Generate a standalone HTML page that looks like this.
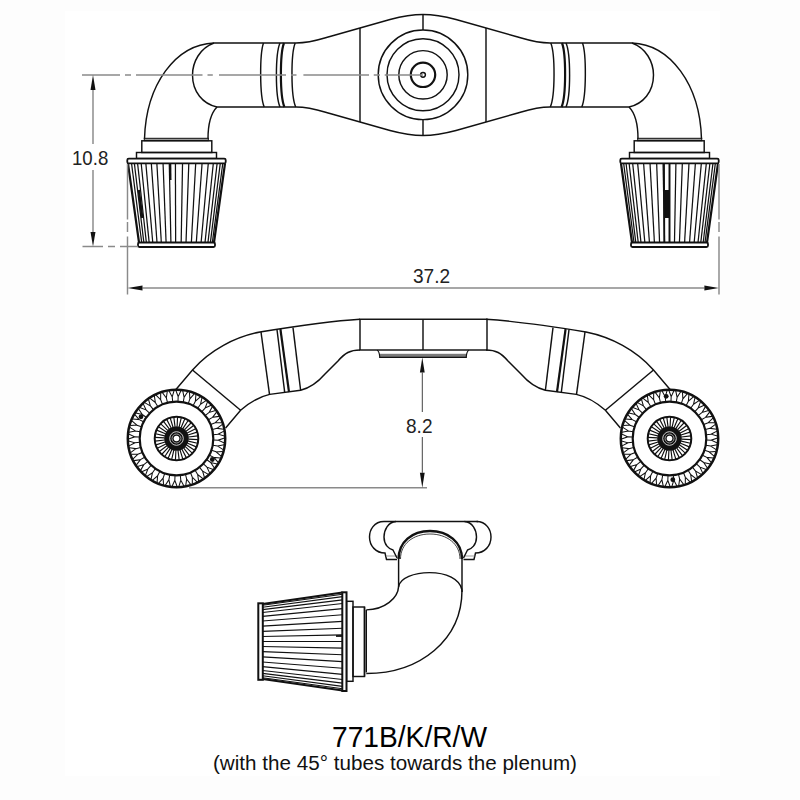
<!DOCTYPE html>
<html><head><meta charset="utf-8"><style>
html,body{margin:0;padding:0;background:#fdfdfd;}
#wrap{position:relative;width:800px;height:800px;overflow:hidden;background:#fdfdfd;}
#white{position:absolute;left:65px;top:11px;width:655px;height:765px;background:#fff;}
svg{position:absolute;left:0;top:0;}
.o{fill:none;stroke:#111;stroke-width:1.45;}
.t{fill:none;stroke:#111;stroke-width:2.2;}
.p{fill:none;stroke:#111;stroke-width:1.25;}
.tx{position:absolute;font-family:"Liberation Sans",sans-serif;color:#222;white-space:nowrap;line-height:1;}
</style></head><body><div id="wrap"><div id="white"></div>
<svg width="800" height="800" viewBox="0 0 800 800">
<path d="M214,43 C176,44.5 146,84 144.5,139" class="o"/>
<path d="M217,107 C211,113 208,124 208,139" class="o"/>
<path d="M214,43 C200,48 192.5,62 192.5,75 C192.5,92 203,104 217,107" class="o"/>
<path d="M214,43 L296,43 M217,107 L296,107" class="o"/>
<path d="M263.5,43 C259.6,54 259.6,96 264.2,107" class="o"/>
<path d="M280,43 C275.2,54 275.2,96 280,107" class="o"/>
<path d="M284,43 C279.8,54 279.8,96 284.4,107" class="t"/>
<path d="M295.2,43 C290.8,54 290.8,96 295.7,107" class="o"/>
<path d="M296,43 C310,43 318,40 330,36.5 L390,19.5 C405,15.5 413,14.5 423,14.5" class="o"/>
<path d="M296,107 C310,107 318,110 330,113.5 L390,130.5 C405,134.5 413,135.5 423,135.5" class="o"/>
<path d="M360,28 L360,122" class="o"/>
<rect x="144.3" y="138.3" width="64" height="2.4" fill="#9a9a9a" stroke="#111" stroke-width="1"/>
<rect x="141.8" y="140.8" width="70" height="11.7" class="o"/>
<rect x="136.5" y="152.5" width="80" height="6" class="o"/>
<g transform="matrix(-1 0 0 1 846 0)"><path d="M214,43 C176,44.5 146,84 144.5,139" class="o"/><path d="M217,107 C211,113 208,124 208,139" class="o"/><path d="M214,43 C200,48 192.5,62 192.5,75 C192.5,92 203,104 217,107" class="o"/><path d="M214,43 L296,43 M217,107 L296,107" class="o"/><path d="M263.5,43 C259.6,54 259.6,96 264.2,107" class="o"/><path d="M280,43 C275.2,54 275.2,96 280,107" class="o"/><path d="M284,43 C279.8,54 279.8,96 284.4,107" class="t"/><path d="M295.2,43 C290.8,54 290.8,96 295.7,107" class="o"/><path d="M296,43 C310,43 318,40 330,36.5 L390,19.5 C405,15.5 413,14.5 423,14.5" class="o"/><path d="M296,107 C310,107 318,110 330,113.5 L390,130.5 C405,134.5 413,135.5 423,135.5" class="o"/><path d="M360,28 L360,122" class="o"/><rect x="144.3" y="138.3" width="64" height="2.4" fill="#9a9a9a" stroke="#111" stroke-width="1"/><rect x="141.8" y="140.8" width="70" height="11.7" class="o"/><rect x="136.5" y="152.5" width="80" height="6" class="o"/></g>
<path d="M423,14.5 L423,30 M423,119.5 L423,135.5" class="o"/>
<circle cx="423" cy="74.8" r="44.8" class="o"/>
<circle cx="423" cy="74.8" r="36" class="o"/>
<circle cx="423" cy="74.8" r="24.2" class="o"/>
<circle cx="423" cy="74.8" r="12.2" fill="none" stroke="#111" stroke-width="2.2"/>
<circle cx="423" cy="74.8" r="2.4" class="o"/>
<rect x="127.3" y="158.6" width="98.4" height="4.8" rx="1.5" fill="#fff" stroke="#111" stroke-width="1.8"/>
<path d="M131.56,163.5 L141.69,242.5" class="p"/>
<path d="M134.37,163.5 L143.86,242.5" class="p"/>
<path d="M137.60,163.5 L146.36,242.5" class="p"/>
<path d="M141.21,163.5 L149.16,242.5" class="p"/>
<path d="M145.86,163.5 L152.76,242.5" class="p"/>
<path d="M151.32,163.5 L157.00,242.5" class="p"/>
<path d="M156.88,163.5 L161.30,242.5" class="p"/>
<path d="M163.06,163.5 L166.09,242.5" class="p"/>
<path d="M169.28,163.5 L170.91,242.5" class="p"/>
<path d="M175.41,163.5 L175.65,242.5" class="p"/>
<path d="M182.53,163.5 L181.17,242.5" class="p"/>
<path d="M188.80,163.5 L186.03,242.5" class="p"/>
<path d="M195.69,163.5 L191.37,242.5" class="p"/>
<path d="M202.06,163.5 L196.30,242.5" class="p"/>
<path d="M208.28,163.5 L201.12,242.5" class="p"/>
<path d="M213.31,163.5 L205.02,242.5" class="p"/>
<path d="M217.11,163.5 L207.96,242.5" class="p"/>
<path d="M220.25,163.5 L210.39,242.5" class="p"/>
<path d="M222.76,163.5 L212.34,242.5" class="p"/>
<path d="M128.0,163.5 L139.0,242.5 M225.0,163.5 L214.0,242.5" fill="none" stroke="#111" stroke-width="2.2"/>
<rect x="138.0" y="242.5" width="77" height="4.5" rx="1.5" fill="#fff" stroke="#111" stroke-width="1.8"/>
<rect x="620.3" y="158.6" width="98.4" height="4.8" rx="1.5" fill="#fff" stroke="#111" stroke-width="1.8"/>
<path d="M623.66,163.5 L633.99,242.5" class="p"/>
<path d="M626.04,163.5 L635.83,242.5" class="p"/>
<path d="M629.12,163.5 L638.22,242.5" class="p"/>
<path d="M632.69,163.5 L640.98,242.5" class="p"/>
<path d="M637.67,163.5 L644.84,242.5" class="p"/>
<path d="M643.61,163.5 L649.44,242.5" class="p"/>
<path d="M650.02,163.5 L654.41,242.5" class="p"/>
<path d="M656.67,163.5 L659.56,242.5" class="p"/>
<path d="M663.09,163.5 L664.53,242.5" class="p"/>
<path d="M669.50,163.5 L669.50,242.5" class="p"/>
<path d="M675.91,163.5 L674.47,242.5" class="p"/>
<path d="M682.33,163.5 L679.44,242.5" class="p"/>
<path d="M688.98,163.5 L684.59,242.5" class="p"/>
<path d="M695.39,163.5 L689.56,242.5" class="p"/>
<path d="M701.33,163.5 L694.16,242.5" class="p"/>
<path d="M706.31,163.5 L698.02,242.5" class="p"/>
<path d="M709.88,163.5 L700.78,242.5" class="p"/>
<path d="M712.96,163.5 L703.17,242.5" class="p"/>
<path d="M715.34,163.5 L705.01,242.5" class="p"/>
<path d="M621.0,163.5 L632.0,242.5 M718.0,163.5 L707.0,242.5" fill="none" stroke="#111" stroke-width="2.2"/>
<rect x="631.0" y="242.5" width="77" height="4.5" rx="1.5" fill="#fff" stroke="#111" stroke-width="1.8"/>
<path d="M170.2,164 L170.4,180" stroke="#111" stroke-width="2.2"/>
<path d="M138.8,190 L142.3,218" stroke="#111" stroke-width="2.4"/>
<rect x="664" y="190" width="5.5" height="28" fill="#111"/>
<path d="M664,163.5 L664.3,242 M669.5,163.5 L669.5,242" stroke="#111" stroke-width="1.8"/>
<path d="M82,75 L423,75" stroke="#8a8a8a" stroke-width="1.45" stroke-dasharray="38 5 6 5 66.5 5 5.3 6.2 67 5 5.5 6.9 65.6 4.75 6.25 4.7 40" fill="none"/>
<path d="M82.5,246.5 L138,246.5" stroke="#8a8a8a" stroke-width="1.45" stroke-dasharray="20.5 5 7 5 20" fill="none"/>
<path d="M93,90 L93,144 M93,170 L93,232" stroke="#8a8a8a" stroke-width="1.45"/>
<path d="M93,75 L90.5,90 L95.5,90 Z" fill="#111"/>
<path d="M93,246.5 L90.5,232 L95.5,232 Z" fill="#111"/>
<path d="M127.5,164 L127.5,294.5" stroke="#8a8a8a" stroke-width="1.45" stroke-dasharray="55.5 2.5 10 4.5 200" fill="none"/>
<path d="M719,164 L719,294.5" stroke="#8a8a8a" stroke-width="1.45" stroke-dasharray="55.5 2.5 10 4.5 200" fill="none"/>
<path d="M142.5,288 L704.4,288" stroke="#8a8a8a" stroke-width="1.5"/>
<path d="M127.5,288 L142.5,285.5 L142.5,290.5 Z" fill="#111"/>
<path d="M718.8,288 L704.4,285.5 L704.4,290.5 Z" fill="#111"/>
<path d="M360,319.25 C340,320.5 300,325.5 260,332 C235,337 210,350 192.5,370 L175.5,390" class="o"/>
<path d="M360,350 C350,350 345,353 338,361 L325,374 C318,382 310,388 300.6,390.25 L269.7,394.4 C258,397 250,402 240.6,410.3 L225.6,428" class="o"/>
<path d="M192.5,370 L240.6,410.3" class="o"/>
<path d="M261,332 L269.5,394.4" class="o"/>
<path d="M277,329.5 L284.7,392.5" class="o"/>
<path d="M280.4,329 L289,392" class="t"/>
<path d="M293,327.6 L300.6,390.25" class="o"/>
<g transform="matrix(-1 0 0 1 846 0)"><path d="M360,319.25 C340,320.5 300,325.5 260,332 C235,337 210,350 192.5,370 L175.5,390" class="o"/><path d="M360,350 C350,350 345,353 338,361 L325,374 C318,382 310,388 300.6,390.25 L269.7,394.4 C258,397 250,402 240.6,410.3 L225.6,428" class="o"/><path d="M192.5,370 L240.6,410.3" class="o"/><path d="M261,332 L269.5,394.4" class="o"/><path d="M277,329.5 L284.7,392.5" class="o"/><path d="M280.4,329 L289,392" class="t"/><path d="M293,327.6 L300.6,390.25" class="o"/></g>
<rect x="360" y="319.25" width="127" height="30.75" class="o"/>
<path d="M423,319.25 L423,350" class="o"/>
<rect x="379.7" y="353.8" width="86.6" height="3.6" fill="#7a7a7a"/>
<path d="M377,350.3 C379,351 379.5,354 379.7,356.5 L379.7,357.4 L466.3,357.4 L466.3,356.5 C466.5,354 467,351 469,350.3" fill="none" stroke="#111" stroke-width="1.2"/>
<circle cx="176.5" cy="438.5" r="48.7" fill="#fff" stroke="#111" stroke-width="2.5"/>
<circle cx="176.5" cy="438.5" r="36.8" fill="none" stroke="#111" stroke-width="2.2"/>
<path d="M213.47,439.98 L218.27,440.17 M224.50,437.92 L218.27,440.17 L224.30,442.91 M212.88,445.23 L217.60,446.10 M224.09,444.76 L217.60,446.10 L223.18,449.67 M211.56,450.34 L216.10,451.87 M222.71,451.47 L216.10,451.87 L221.12,456.20 M209.51,455.20 L213.80,457.37 M220.40,457.91 L213.80,457.37 L218.15,462.37 M206.80,459.73 L210.73,462.49 M217.19,463.96 L210.73,462.49 L214.33,468.05 M203.47,463.83 L206.97,467.11 M213.15,469.50 L206.97,467.11 L209.73,473.13 M199.59,467.41 L202.59,471.16 M208.37,474.40 L202.59,471.16 L204.47,477.51 M195.24,470.40 L197.67,474.54 M202.93,478.57 L197.67,474.54 L198.63,481.09 M190.51,472.74 L192.33,477.19 M196.96,481.92 L192.33,477.19 L192.34,483.81 M185.50,474.39 L186.66,479.05 M190.57,484.39 L186.66,479.05 L185.73,485.60 M180.30,475.30 L180.79,480.08 M183.90,485.93 L180.79,480.08 L178.94,486.44 M175.02,475.47 L174.83,480.27 M177.08,486.50 L174.83,480.27 L172.09,486.30 M169.77,474.88 L168.90,479.60 M170.24,486.09 L168.90,479.60 L165.33,485.18 M164.66,473.56 L163.13,478.10 M163.53,484.71 L163.13,478.10 L158.80,483.12 M159.80,471.51 L157.63,475.80 M157.09,482.40 L157.63,475.80 L152.63,480.15 M155.27,468.80 L152.51,472.73 M151.04,479.19 L152.51,472.73 L146.95,476.33 M151.17,465.47 L147.89,468.97 M145.50,475.15 L147.89,468.97 L141.87,471.73 M147.59,461.59 L143.84,464.59 M140.60,470.37 L143.84,464.59 L137.49,466.47 M144.60,457.24 L140.46,459.67 M136.43,464.93 L140.46,459.67 L133.91,460.63 M142.26,452.51 L137.81,454.33 M133.08,458.96 L137.81,454.33 L131.19,454.34 M140.61,447.50 L135.95,448.66 M130.61,452.57 L135.95,448.66 L129.40,447.73 M139.70,442.30 L134.92,442.79 M129.07,445.90 L134.92,442.79 L128.56,440.94 M139.53,437.02 L134.73,436.83 M128.50,439.08 L134.73,436.83 L128.70,434.09 M140.12,431.77 L135.40,430.90 M128.91,432.24 L135.40,430.90 L129.82,427.33 M141.44,426.66 L136.90,425.13 M130.29,425.53 L136.90,425.13 L131.88,420.80 M143.49,421.80 L139.20,419.63 M132.60,419.09 L139.20,419.63 L134.85,414.63 M146.20,417.27 L142.27,414.51 M135.81,413.04 L142.27,414.51 L138.67,408.95 M149.53,413.17 L146.03,409.89 M139.85,407.50 L146.03,409.89 L143.27,403.87 M153.41,409.59 L150.41,405.84 M144.63,402.60 L150.41,405.84 L148.53,399.49 M157.76,406.60 L155.33,402.46 M150.07,398.43 L155.33,402.46 L154.37,395.91 M162.49,404.26 L160.67,399.81 M156.04,395.08 L160.67,399.81 L160.66,393.19 M167.50,402.61 L166.34,397.95 M162.43,392.61 L166.34,397.95 L167.27,391.40 M172.70,401.70 L172.21,396.92 M169.10,391.07 L172.21,396.92 L174.06,390.56 M177.98,401.53 L178.17,396.73 M175.92,390.50 L178.17,396.73 L180.91,390.70 M183.23,402.12 L184.10,397.40 M182.76,390.91 L184.10,397.40 L187.67,391.82 M188.34,403.44 L189.87,398.90 M189.47,392.29 L189.87,398.90 L194.20,393.88 M193.20,405.49 L195.37,401.20 M195.91,394.60 L195.37,401.20 L200.37,396.85 M197.73,408.20 L200.49,404.27 M201.96,397.81 L200.49,404.27 L206.05,400.67 M201.83,411.53 L205.11,408.03 M207.50,401.85 L205.11,408.03 L211.13,405.27 M205.41,415.41 L209.16,412.41 M212.40,406.63 L209.16,412.41 L215.51,410.53 M208.40,419.76 L212.54,417.33 M216.57,412.07 L212.54,417.33 L219.09,416.37 M210.74,424.49 L215.19,422.67 M219.92,418.04 L215.19,422.67 L221.81,422.66 M212.39,429.50 L217.05,428.34 M222.39,424.43 L217.05,428.34 L223.60,429.27 M213.30,434.70 L218.08,434.21 M223.93,431.10 L218.08,434.21 L224.44,436.06" fill="none" stroke="#111" stroke-width="1.05"/>
<circle cx="176.5" cy="438.5" r="21.8" fill="#fff" stroke="#111" stroke-width="2"/>
<path d="M188.49,439.10 L197.97,439.57 M188.20,441.17 L197.46,443.29 M187.56,443.16 L196.31,446.85 M186.58,445.01 L194.56,450.17 M185.30,446.66 L192.26,453.13 M183.74,448.07 L189.48,455.64 M181.97,449.18 L186.31,457.63 M180.04,449.97 L182.83,459.05 M177.99,450.41 L179.17,459.83 M175.90,450.49 L175.43,459.97 M173.83,450.20 L171.71,459.46 M171.84,449.56 L168.15,458.31 M169.99,448.58 L164.83,456.56 M168.34,447.30 L161.87,454.26 M166.93,445.74 L159.36,451.48 M165.82,443.97 L157.37,448.31 M165.03,442.04 L155.95,444.83 M164.59,439.99 L155.17,441.17 M164.51,437.90 L155.03,437.43 M164.80,435.83 L155.54,433.71 M165.44,433.84 L156.69,430.15 M166.42,431.99 L158.44,426.83 M167.70,430.34 L160.74,423.87 M169.26,428.93 L163.52,421.36 M171.03,427.82 L166.69,419.37 M172.96,427.03 L170.17,417.95 M175.01,426.59 L173.83,417.17 M177.10,426.51 L177.57,417.03 M179.17,426.80 L181.29,417.54 M181.16,427.44 L184.85,418.69 M183.01,428.42 L188.17,420.44 M184.66,429.70 L191.13,422.74 M186.07,431.26 L193.64,425.52 M187.18,433.03 L195.63,428.69 M187.97,434.96 L197.05,432.17 M188.41,437.01 L197.83,435.83" fill="none" stroke="#111" stroke-width="1.15"/>
<circle cx="176.5" cy="438.5" r="12.3" fill="#111"/>
<circle cx="176.5" cy="438.5" r="6.8" fill="none" stroke="#e0e0e0" stroke-width="0.9"/>
<circle cx="176.5" cy="438.5" r="4.5" fill="none" stroke="#999" stroke-width="1"/>
<circle cx="176.5" cy="438.5" r="2.8" fill="#fff"/>
<circle cx="141" cy="416.8" r="2.4" fill="#111"/>
<circle cx="212.3" cy="459.5" r="2.4" fill="#111"/>
<circle cx="669.5" cy="438.5" r="48.7" fill="#fff" stroke="#111" stroke-width="2.5"/>
<circle cx="669.5" cy="438.5" r="36.8" fill="none" stroke="#111" stroke-width="2.2"/>
<path d="M706.47,439.98 L711.27,440.17 M717.50,437.92 L711.27,440.17 L717.30,442.91 M705.88,445.23 L710.60,446.10 M717.09,444.76 L710.60,446.10 L716.18,449.67 M704.56,450.34 L709.10,451.87 M715.71,451.47 L709.10,451.87 L714.12,456.20 M702.51,455.20 L706.80,457.37 M713.40,457.91 L706.80,457.37 L711.15,462.37 M699.80,459.73 L703.73,462.49 M710.19,463.96 L703.73,462.49 L707.33,468.05 M696.47,463.83 L699.97,467.11 M706.15,469.50 L699.97,467.11 L702.73,473.13 M692.59,467.41 L695.59,471.16 M701.37,474.40 L695.59,471.16 L697.47,477.51 M688.24,470.40 L690.67,474.54 M695.93,478.57 L690.67,474.54 L691.63,481.09 M683.51,472.74 L685.33,477.19 M689.96,481.92 L685.33,477.19 L685.34,483.81 M678.50,474.39 L679.66,479.05 M683.57,484.39 L679.66,479.05 L678.73,485.60 M673.30,475.30 L673.79,480.08 M676.90,485.93 L673.79,480.08 L671.94,486.44 M668.02,475.47 L667.83,480.27 M670.08,486.50 L667.83,480.27 L665.09,486.30 M662.77,474.88 L661.90,479.60 M663.24,486.09 L661.90,479.60 L658.33,485.18 M657.66,473.56 L656.13,478.10 M656.53,484.71 L656.13,478.10 L651.80,483.12 M652.80,471.51 L650.63,475.80 M650.09,482.40 L650.63,475.80 L645.63,480.15 M648.27,468.80 L645.51,472.73 M644.04,479.19 L645.51,472.73 L639.95,476.33 M644.17,465.47 L640.89,468.97 M638.50,475.15 L640.89,468.97 L634.87,471.73 M640.59,461.59 L636.84,464.59 M633.60,470.37 L636.84,464.59 L630.49,466.47 M637.60,457.24 L633.46,459.67 M629.43,464.93 L633.46,459.67 L626.91,460.63 M635.26,452.51 L630.81,454.33 M626.08,458.96 L630.81,454.33 L624.19,454.34 M633.61,447.50 L628.95,448.66 M623.61,452.57 L628.95,448.66 L622.40,447.73 M632.70,442.30 L627.92,442.79 M622.07,445.90 L627.92,442.79 L621.56,440.94 M632.53,437.02 L627.73,436.83 M621.50,439.08 L627.73,436.83 L621.70,434.09 M633.12,431.77 L628.40,430.90 M621.91,432.24 L628.40,430.90 L622.82,427.33 M634.44,426.66 L629.90,425.13 M623.29,425.53 L629.90,425.13 L624.88,420.80 M636.49,421.80 L632.20,419.63 M625.60,419.09 L632.20,419.63 L627.85,414.63 M639.20,417.27 L635.27,414.51 M628.81,413.04 L635.27,414.51 L631.67,408.95 M642.53,413.17 L639.03,409.89 M632.85,407.50 L639.03,409.89 L636.27,403.87 M646.41,409.59 L643.41,405.84 M637.63,402.60 L643.41,405.84 L641.53,399.49 M650.76,406.60 L648.33,402.46 M643.07,398.43 L648.33,402.46 L647.37,395.91 M655.49,404.26 L653.67,399.81 M649.04,395.08 L653.67,399.81 L653.66,393.19 M660.50,402.61 L659.34,397.95 M655.43,392.61 L659.34,397.95 L660.27,391.40 M665.70,401.70 L665.21,396.92 M662.10,391.07 L665.21,396.92 L667.06,390.56 M670.98,401.53 L671.17,396.73 M668.92,390.50 L671.17,396.73 L673.91,390.70 M676.23,402.12 L677.10,397.40 M675.76,390.91 L677.10,397.40 L680.67,391.82 M681.34,403.44 L682.87,398.90 M682.47,392.29 L682.87,398.90 L687.20,393.88 M686.20,405.49 L688.37,401.20 M688.91,394.60 L688.37,401.20 L693.37,396.85 M690.73,408.20 L693.49,404.27 M694.96,397.81 L693.49,404.27 L699.05,400.67 M694.83,411.53 L698.11,408.03 M700.50,401.85 L698.11,408.03 L704.13,405.27 M698.41,415.41 L702.16,412.41 M705.40,406.63 L702.16,412.41 L708.51,410.53 M701.40,419.76 L705.54,417.33 M709.57,412.07 L705.54,417.33 L712.09,416.37 M703.74,424.49 L708.19,422.67 M712.92,418.04 L708.19,422.67 L714.81,422.66 M705.39,429.50 L710.05,428.34 M715.39,424.43 L710.05,428.34 L716.60,429.27 M706.30,434.70 L711.08,434.21 M716.93,431.10 L711.08,434.21 L717.44,436.06" fill="none" stroke="#111" stroke-width="1.05"/>
<circle cx="669.5" cy="438.5" r="21.8" fill="#fff" stroke="#111" stroke-width="2"/>
<path d="M681.49,439.10 L690.97,439.57 M681.20,441.17 L690.46,443.29 M680.56,443.16 L689.31,446.85 M679.58,445.01 L687.56,450.17 M678.30,446.66 L685.26,453.13 M676.74,448.07 L682.48,455.64 M674.97,449.18 L679.31,457.63 M673.04,449.97 L675.83,459.05 M670.99,450.41 L672.17,459.83 M668.90,450.49 L668.43,459.97 M666.83,450.20 L664.71,459.46 M664.84,449.56 L661.15,458.31 M662.99,448.58 L657.83,456.56 M661.34,447.30 L654.87,454.26 M659.93,445.74 L652.36,451.48 M658.82,443.97 L650.37,448.31 M658.03,442.04 L648.95,444.83 M657.59,439.99 L648.17,441.17 M657.51,437.90 L648.03,437.43 M657.80,435.83 L648.54,433.71 M658.44,433.84 L649.69,430.15 M659.42,431.99 L651.44,426.83 M660.70,430.34 L653.74,423.87 M662.26,428.93 L656.52,421.36 M664.03,427.82 L659.69,419.37 M665.96,427.03 L663.17,417.95 M668.01,426.59 L666.83,417.17 M670.10,426.51 L670.57,417.03 M672.17,426.80 L674.29,417.54 M674.16,427.44 L677.85,418.69 M676.01,428.42 L681.17,420.44 M677.66,429.70 L684.13,422.74 M679.07,431.26 L686.64,425.52 M680.18,433.03 L688.63,428.69 M680.97,434.96 L690.05,432.17 M681.41,437.01 L690.83,435.83" fill="none" stroke="#111" stroke-width="1.15"/>
<circle cx="669.5" cy="438.5" r="12.3" fill="#111"/>
<circle cx="669.5" cy="438.5" r="6.8" fill="none" stroke="#e0e0e0" stroke-width="0.9"/>
<circle cx="669.5" cy="438.5" r="4.5" fill="none" stroke="#999" stroke-width="1"/>
<circle cx="669.5" cy="438.5" r="2.8" fill="#fff"/>
<circle cx="666.2" cy="396.3" r="2.4" fill="#111"/>
<circle cx="672.8" cy="479.7" r="2.4" fill="#111"/>
<path d="M189,487.8 L427,487.8" stroke="#8a8a8a" stroke-width="1.45"/>
<path d="M422.3,372.5 L422.3,412 M422.3,437 L422.3,472.8" stroke="#444" stroke-width="1"/>
<path d="M422.3,357.6 L419.9,372.5 L424.7,372.5 Z" fill="#111"/>
<path d="M422.3,487.8 L419.9,472.8 L424.7,472.8 Z" fill="#111"/>
<path d="M384,521.5 L478,521.5" class="o"/>
<path d="M384,521.5 C374,521.5 369.5,530 369.5,537 C369.5,546 376,553 385,553 L386.5,559.5 L397,559.5" class="o"/>
<path d="M386,556 L397,556" stroke="#999" stroke-width="1"/>
<path d="M396,521.5 C388,522 384,530 384,537 C384,545 389,549 393,550 L397,558" class="o"/>
<g transform="matrix(-1 0 0 1 860.5 0)"><path d="M384,521.5 C374,521.5 369.5,530 369.5,537 C369.5,546 376,553 385,553 L386.5,559.5 L397,559.5" class="o"/><path d="M386,556 L397,556" stroke="#999" stroke-width="1"/><path d="M396,521.5 C388,522 384,530 384,537 C384,545 389,549 393,550 L397,558" class="o"/></g>
<path d="M398.6,559 C398.6,542 412,531 430,531 C448,531 462,542 462,559" fill="none" stroke="#111" stroke-width="2.4"/>
<path d="M400.5,559 C400.5,544 413,534 430,534 C447,534 460,544 460,559" fill="none" stroke="#111" stroke-width="0.8"/>
<path d="M398.6,555 L398.6,587 M462,555 L462,592" class="o"/>
<path d="M398.6,586.6 C400,578 414,572.6 429.5,572.6 C446,572.6 460,579 462,590" class="o"/>
<path d="M462,590 C462,640 420,673.5 366.3,673.5" class="o"/>
<path d="M398.6,586.6 C398,598 385,609.5 366.3,609.9" class="o"/>
<path d="M366.3,609.9 L366.3,672.4" class="o"/>
<rect x="353" y="607" width="11.5" height="69.5" class="o"/>
<path d="M364.5,607 L364.5,676.5" class="o"/>
<rect x="346.5" y="601.3" width="6.5" height="80" class="o"/>
<path d="M262.5,605.31 L342.5,594.22 M262.5,607.19 L342.5,596.66 M262.5,609.62 L342.5,599.85 M262.5,612.44 L342.5,603.52 M262.5,616.38 L342.5,608.67 M262.5,621.06 L342.5,614.79 M262.5,626.12 L342.5,621.41 M262.5,631.38 L342.5,628.27 M262.5,636.44 L342.5,634.88 M262.5,641.50 L342.5,641.50 M262.5,646.56 L342.5,648.12 M262.5,651.62 L342.5,654.73 M262.5,656.88 L342.5,661.59 M262.5,661.94 L342.5,668.21 M262.5,666.62 L342.5,674.33 M262.5,670.56 L342.5,679.48 M262.5,673.38 L342.5,683.15 M262.5,675.81 L342.5,686.34 M262.5,677.69 L342.5,688.78" fill="none" stroke="#111" stroke-width="1.1"/>
<path d="M262.5,604 L342.5,592.5 M262.5,679 L342.5,690.5" fill="none" stroke="#111" stroke-width="2.2"/>
<rect x="258.3" y="603.3" width="4.5" height="76.5" fill="#fff" stroke="#111" stroke-width="2"/>
<rect x="342.3" y="592.3" width="4.2" height="98.7" fill="#fff" stroke="#111" stroke-width="2"/>
<path d="M336,636 L342,636" stroke="#111" stroke-width="1.8"/>
</svg>
<div class="tx" style="left:71.8px;top:147.2px;font-size:21px;transform:scaleX(0.887);transform-origin:0 0;">10.8</div>
<div class="tx" style="left:413.1px;top:265.1px;font-size:21px;transform:scaleX(0.908);transform-origin:0 0;">37.2</div>
<div class="tx" style="left:405.8px;top:414.5px;font-size:21px;transform:scaleX(0.907);transform-origin:0 0;">8.2</div>
<div class="tx" style="left:331.6px;top:722px;font-size:30px;color:#000;transform:scaleX(0.939);transform-origin:0 0;">771B/K/R/W</div>
<div class="tx" style="left:212.6px;top:753.1px;font-size:20.5px;color:#111;transform:scaleX(1.007);transform-origin:0 0;">(with the 45° tubes towards the plenum)</div>
</div></body></html>
